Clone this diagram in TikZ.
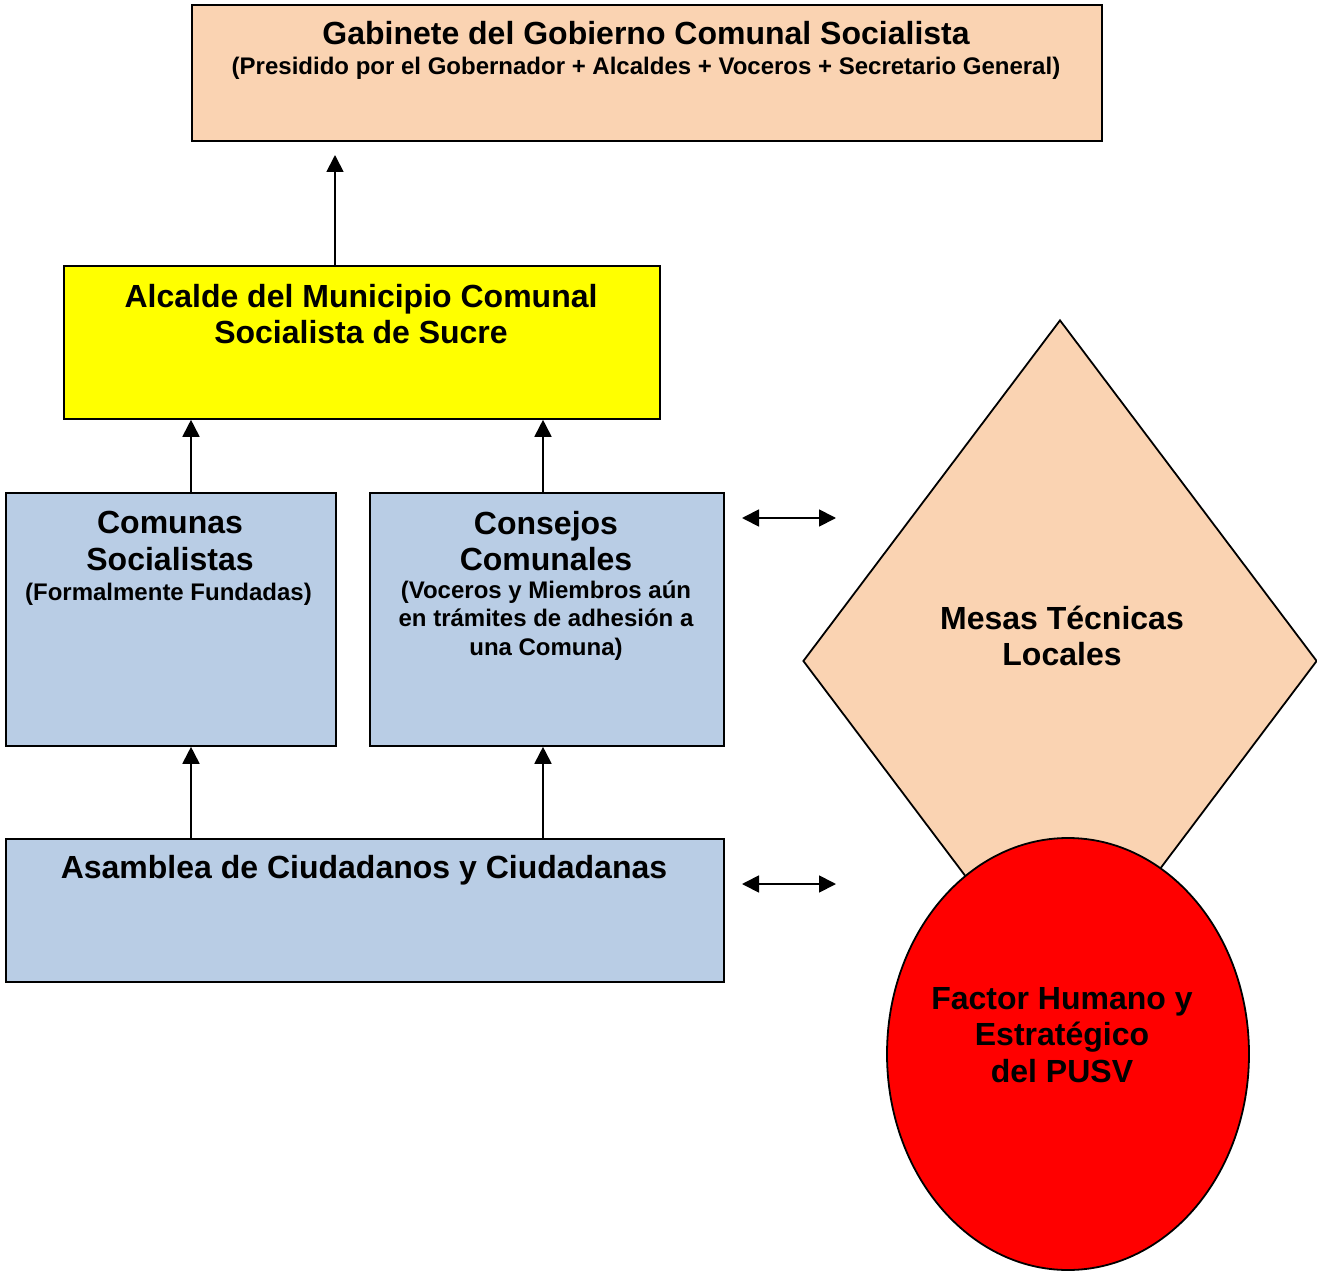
\documentclass[tikz,border=0pt]{standalone}
\usepackage{fontspec}
\setmainfont{Liberation Sans}
\usetikzlibrary{shapes.geometric,arrows.meta}
\definecolor{peach}{HTML}{FAD3B2}
\definecolor{lblue}{HTML}{B9CDE5}
\definecolor{yel}{RGB}{255,255,0}
\definecolor{rd}{RGB}{255,0,0}
\begin{document}
\begin{tikzpicture}[x=1pt,y=-1pt,
  box/.style={draw=black,line width=1.8pt,anchor=north west,inner sep=0pt},
  big/.style={font=\bfseries\fontsize{32}{36.5}\selectfont,align=center,inner sep=0pt},
  small/.style={font=\bfseries\fontsize{24}{28.5}\selectfont,align=center,inner sep=0pt},
  arr/.style={line width=1.8pt,-{Triangle[length=17pt,width=17pt]}},
  darr/.style={line width=1.8pt,{Triangle[length=17pt,width=17pt]}-{Triangle[length=17pt,width=17pt]}}]
\useasboundingbox (0,0) rectangle (1317,1273);
% boxes
\node[box,fill=peach,minimum width=910pt,minimum height=136pt] (gab) at (191,4) {};
\node[box,fill=yel,minimum width=596pt,minimum height=153pt] (alc) at (63,265) {};
\node[box,fill=lblue,minimum width=330pt,minimum height=253pt] (com) at (5,492) {};
\node[box,fill=lblue,minimum width=354pt,minimum height=253pt] (con) at (369,492) {};
\node[box,fill=lblue,minimum width=718pt,minimum height=143pt] (asa) at (5,838) {};
\node[draw=black,line width=1.8pt,fill=peach,diamond,inner sep=0pt,minimum width=514pt,minimum height=682pt] (mes) at (1060,661) {};
\node[draw=black,line width=1.8pt,fill=rd,ellipse,inner sep=0pt,minimum width=362pt,minimum height=432pt] (fac) at (1068,1054) {};
% texts
\node[big] (gabt) at (646,33) {Gabinete del Gobierno Comunal Socialista};
\node[small] (gabs) at (646,68) {(Presidido por el Gobernador + Alcaldes + Voceros + Secretario General)};
\node[big] (alct) at (361,314) {Alcalde del Municipio Comunal\\Socialista de Sucre};
\node[big] (comt) at (170,541) {Comunas\\Socialistas};
\node[small] (coms) at (168.5,594) {(Formalmente Fundadas)};
\node[big] (cont) at (546,541) {Consejos\\Comunales};
\node[small] (cons) at (546,620.5) {(Voceros y Miembros aún\\en trámites de adhesión a\\una Comuna)};
\node[big] (asat) at (364,870) {Asamblea de Ciudadanos y Ciudadanas};
\node[big] (mest) at (1062,636) {Mesas Técnicas\\Locales};
\node[big] (fact) at (1062,1035) {Factor Humano y\\Estratégico\\del PUSV};
% connectors
\coordinate (g1) at (335,155);
\draw[arr] (alc.north -| g1) -- (g1);
\draw[arr] (com.north -| 191,0) -- (alc.south -| 191,0);
\draw[arr] (con.north -| 543,0) -- (alc.south -| 543,0);
\draw[arr] (asa.north -| 191,0) -- (com.south -| 191,0);
\draw[arr] (asa.north -| 543,0) -- (con.south -| 543,0);
\coordinate (d1a) at (742,518);
\coordinate (d1b) at (836,518);
\coordinate (d2a) at (742,884);
\coordinate (d2b) at (836,884);
\draw[darr] (d1a) -- (d1b);
\draw[darr] (d2a) -- (d2b);
\end{tikzpicture}
\end{document}
